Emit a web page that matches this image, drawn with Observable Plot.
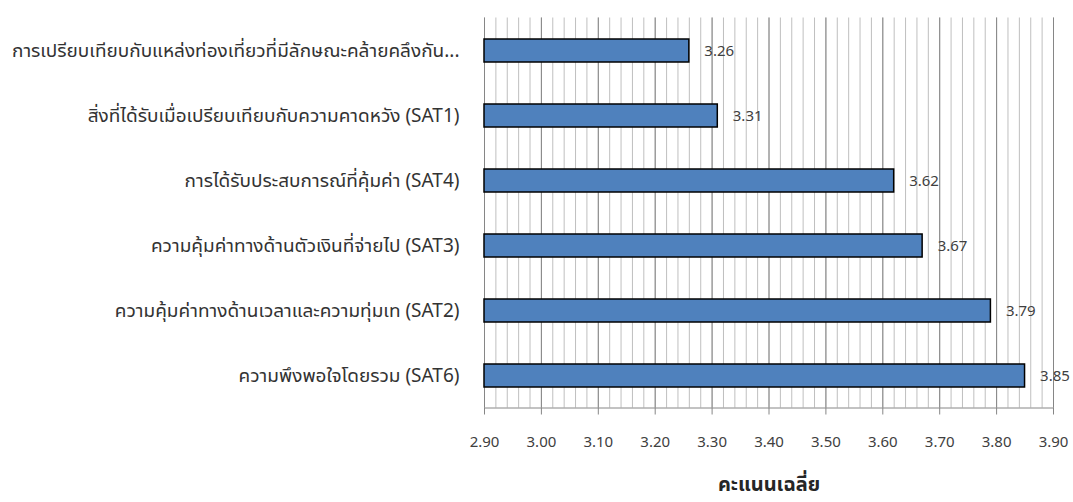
<!DOCTYPE html>
<html>
<head>
<meta charset="utf-8">
<script src="https://cdn.jsdelivr.net/npm/d3@7"></script>
<script src="https://cdn.jsdelivr.net/npm/@observablehq/plot@0.6"></script>
<style>
  html, body { margin: 0; padding: 0; background: #fff; }
  #chart svg { display: block; }
</style>
</head>
<body>
<div id="chart"></div>
<script>
// Satisfaction items (top to bottom) and their mean scores
const items = [
  "การเปรียบเทียบกับแหล่งท่องเที่ยวที่มีลักษณะคล้ายคลึงกัน...",
  "สิ่งที่ได้รับเมื่อเปรียบเทียบกับความคาดหวัง (SAT1)",
  "การได้รับประสบการณ์ที่คุ้มค่า (SAT4)",
  "ความคุ้มค่าทางด้านตัวเงินที่จ่ายไป (SAT3)",
  "ความคุ้มค่าทางด้านเวลาและความทุ่มเท (SAT2)",
  "ความพึงพอใจโดยรวม (SAT6)"
];
const scores = [3.26, 3.31, 3.62, 3.67, 3.79, 3.85];

// Axis range and title
const xDomain = [2.9, 3.9];
const xTitle = "คะแนนเฉลี่ย";

const data = items.map((item, i) => ({item, score: scores[i]}));
const majorTicks = d3.ticks(xDomain[0], xDomain[1], 10);
const minorTicks = d3.ticks(xDomain[0], xDomain[1], 50);
const fmt = d3.format(".2f");
const font = "Tahoma, 'Noto Sans', 'Noto Sans Thai UI', 'Noto Sans Thai', Loma, Garuda, sans-serif";

const chart = Plot.plot({
  width: 1073,
  height: 502,
  marginLeft: 484,
  marginRight: 20,
  marginTop: 17.5,
  marginBottom: 94.5,
  style: {fontFamily: font, background: "#fff"},
  x: {domain: xDomain},
  y: {domain: items, paddingInner: 0.65, paddingOuter: 0.325},
  marks: [
    // light minor grid every 0.02, darker major grid every 0.10
    Plot.ruleX(minorTicks, {stroke: "#BFBFBF", strokeWidth: 1}),
    Plot.ruleX(majorTicks, {stroke: "#868686", strokeWidth: 1}),
    Plot.frame({anchor: "bottom", stroke: "#868686"}),
    Plot.axisX({
      ticks: majorTicks,
      tickFormat: fmt,
      tickSize: 7,
      tickPadding: 21,
      stroke: "#868686",
      fontSize: 15,
      color: "#404040",
      label: null
    }),
    Plot.axisY({
      tickSize: 0,
      tickPadding: 25,
      fontSize: 19,
      color: "#333333",
      label: null
    }),
    Plot.barX(data, {
      y: "item",
      x1: () => xDomain[0],
      x2: "score",
      fill: "#4F81BD",
      stroke: "#000",
      strokeWidth: 1.5
    }),
    Plot.text(data, {
      y: "item",
      x: "score",
      text: d => fmt(d.score),
      dx: 15,
      textAnchor: "start",
      fontSize: 15,
      fill: "#404040"
    }),
    Plot.text([xTitle], {
      frameAnchor: "bottom",
      x: () => (xDomain[0] + xDomain[1]) / 2,
      dy: 83,
      fontSize: 20,
      fontWeight: "bold",
      fill: "#262626"
    })
  ]
});

document.getElementById("chart").appendChild(chart);
</script>
</body>
</html>
